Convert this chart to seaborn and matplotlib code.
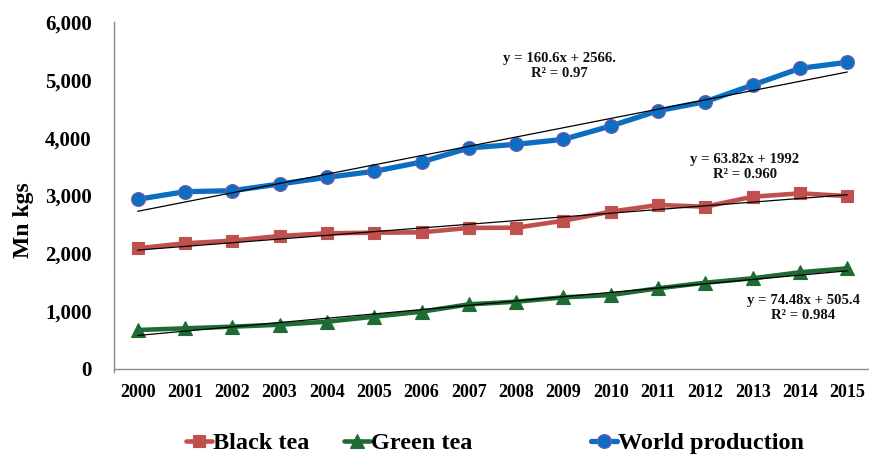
import numpy as np
import pandas as pd
import matplotlib
matplotlib.use("Agg")
import matplotlib.pyplot as plt
from matplotlib.lines import Line2D
from matplotlib.font_manager import FontProperties
import seaborn as sns

# Tea production, million kg
years = list(range(2000, 2016))
black_tea = [2087, 2173, 2219, 2300, 2346, 2357, 2363, 2440, 2443, 2564, 2720, 2836, 2807, 2979, 3037, 2991]
green_tea = [674, 703, 732, 766, 818, 905, 991, 1118, 1164, 1239, 1279, 1395, 1492, 1568, 1672, 1741]
world_production = [2934, 3066, 3083, 3199, 3314, 3418, 3579, 3822, 3885, 3971, 4201, 4466, 4622, 4910, 5199, 5303]

# Linear trend coefficients (slope, intercept, R²) with x = 1..16
world_trend = (160.6, 2566.0, "0.97")
black_trend = (63.82, 1992.0, "0.960")
green_trend = (74.48, 505.4, "0.984")

sns.set_theme(style="white")
plt.rcParams["font.family"] = ["Liberation Serif", "DejaVu Serif"]
plt.rcParams["font.weight"] = "bold"

W, H = 869, 458
fig = plt.figure(figsize=(W / 100, H / 100), dpi=100)
ax_left, ax_right, ax_top, ax_bottom = 114, 871, 22, 369
ax = fig.add_axes([ax_left / W, 1 - ax_bottom / H, (ax_right - ax_left) / W, (ax_bottom - ax_top) / H])

idx = np.arange(len(years))
series = [
    ("Black tea", black_tea, "#C0504D", "#C0504D", "s", 9.0, 3.3),
    ("Green tea", green_tea, "#1E6B33", "#1E6B33", "^", 9.5, 3.3),
    ("World production", world_production, "#0A6FC2", "#7A5AA6", "o", 10.0, 3.8),
]

handles = []
for name, vals, col, edge, mk, ms, lw in series:
    df = pd.DataFrame({"idx": idx, "value": vals})
    sns.lineplot(data=df, x="idx", y="value", ax=ax, color=col, marker=mk,
                 markersize=ms, markeredgecolor=edge, markeredgewidth=0.8,
                 linewidth=lw, legend=False, zorder=3)
    handles.append(Line2D([], [], color=col, marker=mk, markersize=ms,
                          markeredgecolor=edge, markeredgewidth=0.8, linewidth=lw))

# Trend lines from the fitted equations
for slope, icpt, _ in (world_trend, black_trend, green_trend):
    xs = np.array([1, len(years)])
    tdf = pd.DataFrame({"idx": xs - 1, "value": slope * xs + icpt})
    sns.lineplot(data=tdf, x="idx", y="value", ax=ax, color="black",
                 linewidth=0.9, legend=False, zorder=4)

# Equation labels
eq_kw = dict(ha="center", va="center", fontsize=10.6, fontweight="bold",
             linespacing=1.2, transform=fig.transFigure, color="#111111")
fig.text(559 / W, 1 - 66 / H, f"y = {world_trend[0]}x + {int(world_trend[1])}.\nR² = {world_trend[2]}", **eq_kw)
fig.text(745 / W, 1 - 167 / H, f"y = {black_trend[0]}x + {int(black_trend[1])}\nR² = {black_trend[2]}", **eq_kw)
fig.text(803 / W, 1 - 308 / H, f"y = {green_trend[0]}x + {green_trend[1]}\nR² = {green_trend[2]}", **eq_kw)

# Axes styling
ax.set_xlim(-0.5, len(years) - 0.5)
ax.set_ylim(0, 6000)
ax.set_yticks(range(0, 6001, 1000))
ax.yaxis.set_major_formatter(matplotlib.ticker.FuncFormatter(lambda v, p: f"{int(v):,}"))
ax.set_xticks(idx)
ax.set_xticklabels([str(y) for y in years])
ax.set_xticks(np.arange(-0.5, len(years)), minor=True)
ax.tick_params(axis="x", which="major", length=0, pad=11, labelsize=13)
ax.tick_params(axis="x", which="minor", length=5, width=1, color="#8C8C8C", direction="out")
ax.tick_params(axis="y", which="major", length=6, width=1, color="#8C8C8C",
               direction="out", pad=10, labelsize=15)
for lab in ax.get_xticklabels() + ax.get_yticklabels():
    lab.set_fontweight("bold")
    lab.set_color("black")

for s in ("top", "right"):
    ax.spines[s].set_visible(False)
for s in ("left", "bottom"):
    ax.spines[s].set_color("#8C8C8C")
    ax.spines[s].set_linewidth(1.0)
ax.spines["left"].set_bounds(-60, 6000)
ax.grid(False)
ax.set_xlabel("")
ax.set_ylabel("Mn kgs", fontsize=17, fontweight="bold", color="black")
ax.yaxis.set_label_coords((23 - ax_left) / (ax_right - ax_left), (ax_bottom - 220) / (ax_bottom - ax_top))
ax.yaxis.label.set_va("center")

# Legend entries along the bottom
leg_font = FontProperties(family="Liberation Serif", weight="bold", size=17.5)
leg_x = [186, 344, 591]
for h, (name, *_), x in zip(handles, series, leg_x):
    leg = fig.legend([h], [name], loc="center left", bbox_to_anchor=(x / W, 1 - 443 / H),
                     frameon=False, handlelength=1.05, handletextpad=0.05,
                     borderpad=0, borderaxespad=0, prop=leg_font)
    for t in leg.get_texts():
        t.set_fontweight("bold")
        t.set_color("black")

fig.savefig("out.png", dpi=100)
